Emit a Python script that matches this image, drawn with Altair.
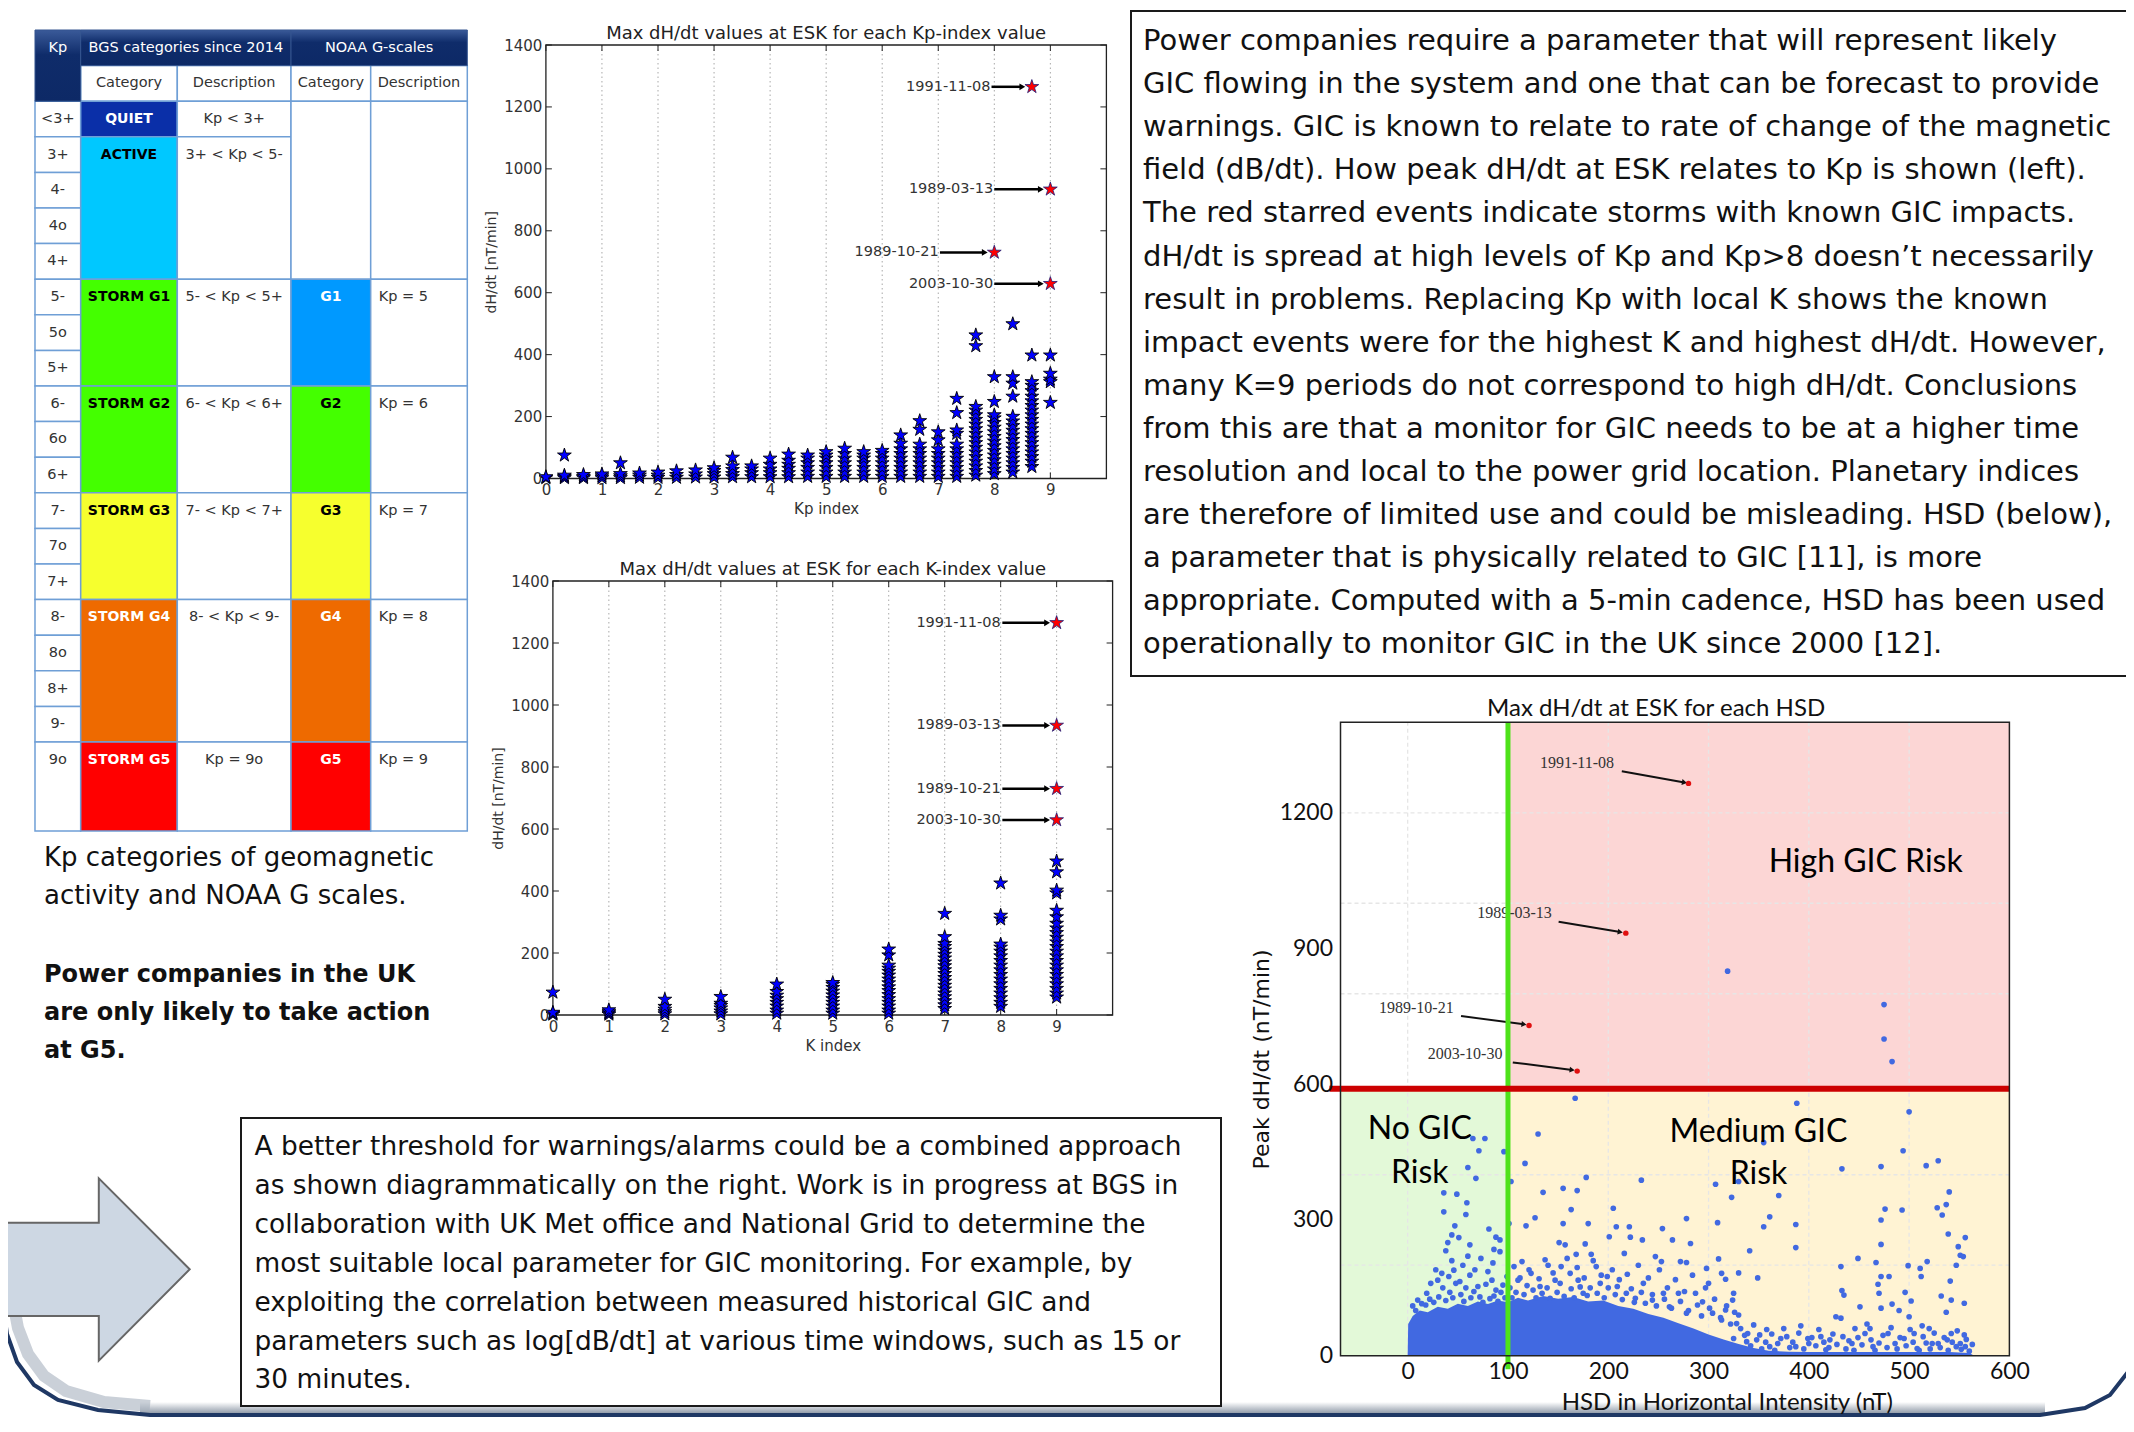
import math
import altair as alt
import pandas as pd

# ---------------------------------------------------------------- data
KP_X = [0, 0.33, 0.67, 1, 1.33, 1.67, 2, 2.33, 2.67, 3, 3.33, 3.67, 4, 4.33,
        4.67, 5, 5.33, 5.67, 6, 6.33, 6.67, 7, 7.33, 7.67, 8, 8.33, 8.67, 9]
KP_VALUES = [
    [2, 5],
    [2, 6, 10, 75],
    [2, 6, 12],
    [2, 8, 14],
    [2, 8, 15, 50],
    [3, 10, 17],
    [3, 10, 20],
    [3, 12, 24],
    [4, 14, 27],
    [4, 15, 25, 34],
    [5, 15, 28, 40, 68],
    [5, 18, 30, 40],
    [5, 18, 30, 45, 65],
    [5, 18, 32, 45, 58, 78],
    [6, 20, 35, 50, 65, 75],
    [6, 20, 35, 50, 65, 75, 86],
    [6, 20, 35, 50, 65, 80, 97],
    [6, 20, 35, 50, 65, 75, 86],
    [6, 20, 35, 50, 65, 80, 90],
    [6, 20, 35, 50, 65, 80, 95, 113, 140],
    [6, 20, 35, 50, 65, 80, 95, 110, 158, 186],
    [6, 20, 35, 50, 65, 80, 95, 124, 150],
    [6, 20, 35, 50, 65, 80, 95, 110, 145, 156, 212, 258],
    [10, 25, 40, 55, 70, 85, 100, 115, 130, 145, 160, 175, 190, 205, 220, 232, 428, 463],
    [15, 30, 45, 60, 75, 90, 105, 120, 135, 150, 165, 180, 195, 205, 248, 328],
    [20, 35, 50, 65, 80, 95, 110, 125, 140, 155, 170, 185, 200, 265, 307, 328, 499],
    [38, 55, 70, 85, 100, 115, 130, 145, 160, 175, 190, 205, 220, 235, 250, 265, 283, 300, 312, 398],
    [245, 312, 320, 339, 398],
]

K_X = [0, 1, 2, 3, 4, 5, 6, 7, 8, 9]
K_VALUES = [
    [2, 5, 8, 73],
    [2, 6, 10, 16],
    [3, 10, 18, 27, 50],
    [3, 12, 22, 30, 37, 59],
    [5, 15, 28, 40, 52, 63, 75, 99],
    [5, 15, 28, 40, 52, 64, 76, 88, 98, 104],
    [5, 15, 28, 40, 52, 65, 78, 90, 103, 115, 128, 140, 150, 160, 193, 212],
    [20, 32, 45, 58, 70, 83, 95, 108, 120, 133, 145, 158, 170, 183, 195, 208, 220, 230, 252, 327],
    [27, 40, 55, 70, 85, 100, 115, 130, 145, 160, 175, 190, 205, 218, 228, 309, 321, 425],
    [57, 70, 85, 100, 115, 130, 145, 160, 175, 190, 205, 220, 235, 250, 265, 280, 295, 316, 337, 393, 402, 461, 496],
]

EVENT_LABELS = ["1991-11-08", "1989-03-13", "1989-10-21", "2003-10-30"]
EVENT_DHDT = [1265, 934, 730, 629]
EVENT_KP = [8.67, 9, 8, 9]
EVENT_K = [9, 9, 9, 9]
EVENT_HSD = [280, 217.5, 121, 169]

HSD_X = [167, 388, 500, 130, 65, 77, 71, 96, 355, 494, 529, 517, 472, 433, 117, 60, 68, 103, 178, 233,
         307, 330, 36, 49, 135, 155, 169, 370, 540, 59, 323, 205, 476, 493, 528, 537, 533, 36, 58, 163,
         278, 361, 309, 472, 47, 81, 101, 118, 127, 155, 180, 208, 221, 254, 355, 387, 539, 556, 44, 51,
         86, 92, 151, 157, 177, 201, 222, 234, 264, 282, 387, 472, 549, 341, 38, 60, 168, 183, 216, 247,
         253, 272, 278, 310, 449, 467, 551, 554, 432, 499, 511, 518, 547, 298, 313, 330, 349, 472, 480, 512,
         541, 300, 317, 325, 433, 435, 469, 470, 472, 483, 496, 502, 532, 542, 555, 537, 500, 490, 451, 317,
         330, 427, 432, 392, 358, 378, 399, 421, 446, 461, 479, 505, 520, 523, 555, 556, 351, 338, 325, 369,
         10, 412, 542, 319, 475, 475, 483,
         19, 23, 30, 34, 41, 46, 52, 62, 70, 80, 84, 88, 95, 106, 110, 114, 123, 132, 140, 147,
         153, 162, 170, 175, 188, 192, 199, 209, 218, 227, 235, 244, 255, 261, 270, 278, 287, 294, 304, 313,
         324, 328, 339, 348, 361, 387, 400, 417, 443, 464, 486, 508, 529, 547, 434, 456, 495, 514, 538, 551,
         102, 104, 108, 112, 116, 119, 121, 125, 128, 131, 134, 137, 139, 142, 145, 149, 152, 156, 159, 163,
         166, 169, 172, 176, 179, 182, 185, 189, 193, 196, 200, 204, 207, 211, 214, 219, 223, 226, 230, 233,
         237, 240, 244, 248, 251, 256, 259, 263, 267, 272, 276, 280, 284, 289, 293, 297, 301, 306, 312, 318,
         322, 326,
         5, 8, 14, 18, 22, 26, 31, 35, 38, 42, 45, 48, 53, 56, 58, 63, 66, 72, 75, 78,
         82, 86, 90, 93, 97, 99, 44, 55, 67, 73, 85, 92, 28, 40, 62, 88,
         332, 336, 342, 345, 353, 357, 363, 366, 372, 375, 381, 384, 390, 395, 403, 407, 410, 415, 420, 424,
         428, 437, 440, 445, 449, 453, 458, 462, 466, 470, 474, 478, 482, 488, 491, 497, 501, 504, 510, 513,
         517, 521, 525, 531, 535, 539, 543, 548, 552, 557, 560, 563]
HSD_Y = [569, 558, 539, 490, 480, 480, 453, 451, 471, 453, 431, 420, 418, 413, 425, 416, 392, 385, 394, 388,
         379, 385, 360, 357, 361, 370, 365, 354, 362, 338, 350, 326, 324, 322, 327, 334, 311, 318, 312, 323,
         303, 307, 294, 300, 287, 280, 292, 287, 305, 292, 292, 285, 285, 281, 285, 290, 269, 261, 267, 261,
         235, 256, 250, 245, 247, 263, 262, 256, 256, 248, 239, 246, 241, 232, 232, 220, 224, 224, 226, 219,
         208, 208, 206, 214, 215, 206, 222, 219, 197, 199, 193, 208, 200, 193, 182, 183, 172, 175, 175, 175,
         165, 160, 169, 138, 144, 134, 158, 138, 105, 114, 140, 121, 132, 123, 116, 96, 86, 100, 108, 101,
         90, 86, 83, 66, 58, 42, 38, 35, 60, 60, 49, 49, 60, 27, 46, 20, 46, 31, 38, 27,
         123, 42, 49, 850, 776, 700, 650,
         138, 160, 167, 182, 175, 189, 164, 178, 153, 186, 167, 145, 156, 197, 167, 208, 182, 153, 200, 167,
         197, 182, 167, 138, 197, 160, 175, 153, 138, 127, 160, 123, 138, 108, 138, 94, 138, 119, 94, 79,
         123, 71, 49, 35, 20, 20, 27, 13, 27, 20, 27, 16, 27, 20, 42, 49, 38, 42, 35, 27,
         150, 128, 140, 172, 135, 155, 190, 145, 128, 170, 138, 212, 150, 127, 183, 140, 160, 131, 215, 148,
         128, 195, 152, 172, 133, 150, 210, 138, 178, 128, 150, 190, 135, 168, 124, 180, 148, 118, 200, 140,
         116, 172, 135, 110, 190, 125, 150, 105, 168, 120, 142, 100, 178, 112, 88, 150, 105, 125, 84, 110,
         70, 96,
         110, 100, 115, 112, 125, 118, 130, 150, 122, 140, 128, 160, 135, 120, 150, 128, 142, 130, 118, 158,
         126, 132, 120, 140, 128, 175, 210, 200, 190, 215, 205, 230, 190, 250, 245, 262,
         60, 45, 22, 68, 15, 30, 48, 12, 38, 60, 18, 30, 50, 15, 40, 22, 58, 30, 18, 48,
         25, 15, 33, 12, 40, 24, 70, 35, 12, 28, 45, 18, 62, 15, 40, 22, 58, 30, 12, 66,
         28, 15, 50, 18, 40, 12, 30, 55, 14, 36, 10, 25]

# upper edge of the solid (saturated) cloud of points
DENSE_X = [0, 0.5, 5, 12, 20, 30, 40, 50, 60, 70, 80, 90, 100, 110, 120, 135, 150, 165, 180, 195,
           210, 225, 240, 255, 270, 285, 300, 315, 330, 345, 360, 380, 400, 450, 500, 540, 560, 565]
DENSE_TOP = [0, 70, 88, 100, 96, 108, 104, 115, 110, 120, 114, 122, 118, 128, 122, 132, 126, 130, 120, 122,
             110, 104, 92, 84, 72, 60, 47, 36, 26, 17, 11, 9, 8, 8, 8, 8, 6, 0]

KP_ROW_LABELS = ["<3+", "3+", "4-", "4o", "4+", "5-", "5o", "5+", "6-", "6o", "6+",
                 "7-", "7o", "7+", "8-", "8o", "8+", "9-", "9o"]
BGS_CATEGORIES = ["QUIET", "ACTIVE", "STORM G1", "STORM G2", "STORM G3", "STORM G4", "STORM G5"]
BGS_DESCRIPTIONS = ["Kp < 3+", "3+ < Kp < 5-", "5- < Kp < 5+", "6- < Kp < 6+", "7- < Kp < 7+",
                    "8- < Kp < 9-", "Kp = 9o"]
NOAA_CATEGORIES = ["", "G1", "G2", "G3", "G4", "G5"]
NOAA_DESCRIPTIONS = ["", "Kp = 5", "Kp = 6", "Kp = 7", "Kp = 8", "Kp = 9"]

TEXT_TOP_RIGHT = [
    "Power companies require a parameter that will represent likely",
    "GIC flowing in the system and one that can be forecast to provide",
    "warnings.  GIC is known to relate to rate of change of the magnetic",
    "field (dB/dt). How peak dH/dt at ESK relates to Kp is shown (left).",
    "The red starred events indicate storms with known GIC impacts.",
    "dH/dt is spread at high levels of Kp and Kp>8 doesn\u2019t necessarily",
    "result in problems. Replacing Kp with local K shows the known",
    "impact events were for the highest K and highest dH/dt. However,",
    "many K=9 periods do not correspond to high dH/dt. Conclusions",
    "from this are that a monitor for GIC needs to be at a higher time",
    "resolution and local to the power grid location. Planetary indices",
    "are therefore of limited use and could be misleading. HSD (below),",
    "a parameter that is physically related to GIC [11], is more",
    "appropriate. Computed with a 5-min cadence, HSD has been used",
    "operationally to monitor GIC in the UK since 2000 [12].",
]
TEXT_BOTTOM = [
    "A better threshold for warnings/alarms could be a combined approach",
    "as shown diagrammatically on the right.  Work is in progress at BGS in",
    "collaboration with UK Met office and National Grid to determine the",
    "most suitable local parameter for GIC monitoring. For example, by",
    "exploiting the correlation between measured historical GIC and",
    "parameters such as log[dB/dt] at various time windows, such as 15 or",
    "30 minutes.",
]
TEXT_CAPTION = ["Kp categories of geomagnetic", "activity and NOAA G scales."]
TEXT_CAPTION_BOLD = ["Power companies in the UK", "are only likely to  take action", "at G5."]

# ---------------------------------------------------------------- layout / style
W, H = 2118, 1410
OFF = 8
MPL_FONT = "DejaVu Sans"
BODY_FONT = "DejaVu Sans"
PLOT3_FONT = "Lato"
STAR = ("M0,-1L0.2245,-0.309L0.9511,-0.309L0.3633,0.118L0.5878,0.809L0,0.382"
        "L-0.5878,0.809L-0.3633,0.118L-0.9511,-0.309L-0.2245,-0.309Z")


def sc(d0, d1, p0, p1):
    return alt.Scale(domain=[d0, d1], range=[p0 - OFF, p1 - OFF], nice=False, zero=False)


XC = sc(0, 2200, 0, 2200)
YC = sc(0, 1500, 0, 1500)


def XCd(f):
    return alt.X(f, type="quantitative", scale=XC, axis=None)


def YCd(f):
    return alt.Y(f, type="quantitative", scale=YC, axis=None)


# ---------------------------------------------------------------- star panels
def star_panel(sx, sy, left_px, bottom_px, ppx, ppy, xs_, vals_, ev_x, ann_end, ann_x0, ann_x1,
               title, xtitle):
    blue = pd.DataFrame([(x, v) for x, vs in zip(xs_, vals_) for v in vs], columns=["x", "y"])
    red = pd.DataFrame({"x": ev_x, "y": EVENT_DHDT})
    ann = pd.DataFrame({"label": EVENT_LABELS, "tx": ann_end, "x0": ann_x0, "x1": ann_x1,
                        "y": EVENT_DHDT})
    grid = pd.DataFrame({"x": list(range(1, 10)), "y0": [0] * 9, "y1": [1400] * 9})
    tl = 6.0
    vt = pd.DataFrame([(t, 0, tl / ppy) for t in range(10)] +
                      [(t, 1400, 1400 - tl / ppy) for t in range(10)], columns=["x", "y0", "y1"])
    ht = pd.DataFrame([(0, tl / ppx, t) for t in range(0, 1401, 200)] +
                      [(10, 10 - tl / ppx, t) for t in range(0, 1401, 200)], columns=["x0", "x1", "y"])
    frame = pd.DataFrame({"x0": [0], "x1": [10], "y0": [0], "y1": [1400]})
    ttl = pd.DataFrame({"x": [5], "y": [1400]})

    xaxis = alt.Axis(orient="bottom", offset=bottom_px - OFF - H, values=list(range(10)), format="d",
                     ticks=False, tickSize=0, domain=False, grid=False, labelFlush=False,
                     labelOverlap=False, labelFont=MPL_FONT, labelFontSize=15, labelColor="#333",
                     labelPadding=4, title=xtitle, titleFont=MPL_FONT, titleFontSize=15,
                     titleFontWeight="normal", titleColor="#333", titlePadding=4, zindex=1)
    yaxis = alt.Axis(orient="left", offset=-(left_px - OFF), values=list(range(0, 1401, 200)),
                     format="d", ticks=False, tickSize=0, domain=False, grid=False,
                     labelFlush=False, labelOverlap=False, labelFont=MPL_FONT, labelFontSize=15,
                     labelColor="#333", labelPadding=4, title="dH/dt [nT/min]", titleFont=MPL_FONT,
                     titleFontSize=14, titleFontWeight="normal", titleColor="#333", titlePadding=5,
                     zindex=1)

    def X(f):
        return alt.X(f, type="quantitative", scale=sx, axis=xaxis)

    def Y(f):
        return alt.Y(f, type="quantitative", scale=sy, axis=yaxis)

    return alt.layer(
        alt.Chart(grid).mark_rule(color="#a8a8a8", strokeDash=[1.5, 3], strokeWidth=1)
        .encode(x=X("x"), y=Y("y0"), y2="y1"),
        alt.Chart(vt).mark_rule(color="#222", strokeWidth=1).encode(x=X("x"), y=Y("y0"), y2="y1"),
        alt.Chart(ht).mark_rule(color="#222", strokeWidth=1).encode(x=X("x0"), x2="x1", y=Y("y")),
        alt.Chart(frame).mark_rect(fillOpacity=0, stroke="#222", strokeWidth=1.3)
        .encode(x=X("x0"), x2="x1", y=Y("y0"), y2="y1"),
        alt.Chart(blue).mark_point(shape=STAR, filled=True, size=210, fill="#0000ff", stroke="#000",
                                   strokeWidth=0.9, opacity=1)
        .encode(x=X("x"), y=Y("y")),
        alt.Chart(red).mark_point(shape=STAR, filled=True, size=210, fill="#ff0000", stroke="#1c1c78",
                                  strokeWidth=0.8, opacity=1)
        .encode(x=X("x"), y=Y("y")),
        alt.Chart(ann).mark_rule(color="#000", strokeWidth=2.5).encode(x=X("x0"), x2="x1", y=Y("y")),
        alt.Chart(ann).mark_point(shape="triangle-right", filled=True, fill="#000", size=45,
                                  opacity=1, strokeWidth=0)
        .encode(x=X("x1"), y=Y("y")),
        alt.Chart(ann).mark_text(align="right", baseline="middle", font=MPL_FONT, fontSize=14.5,
                                 color="#333")
        .encode(x=X("tx"), y=Y("y"), text="label:N"),
        alt.Chart(ttl).mark_text(text=title, align="center", baseline="alphabetic", dy=-6,
                                 font=MPL_FONT, fontSize=18, color="#222")
        .encode(x=X("x"), y=Y("y")),
    )


P1X = sc(0, 10, 545.9, 1106.4)
P1Y = sc(0, 1400, 478.5, 45)
P2X = sc(0, 10, 552.9, 1112.6)
P2Y = sc(0, 1400, 1015, 581)

panel1 = star_panel(P1X, P1Y, 545.9, 478.5, 56.05, 433.5 / 1400, KP_X, KP_VALUES, EVENT_KP,
                    [7.93, 7.98, 7.01, 7.98], [7.95, 8.0, 7.03, 8.0], [8.5, 8.83, 7.83, 8.83],
                    "Max dH/dt values at ESK for each Kp-index value", "Kp index")
panel2 = star_panel(P2X, P2Y, 552.9, 1015, 55.97, 434 / 1400, K_X, K_VALUES, EVENT_K,
                    [8.0, 8.0, 8.0, 8.0], [8.03, 8.03, 8.03, 8.03], [8.83, 8.83, 8.83, 8.83],
                    "Max dH/dt values at ESK for each K-index value", "K index")

# ---------------------------------------------------------------- HSD panel
P3X = sc(-67, 600, 1340.5, 2009.4)
P3Y = sc(0, 1400, 1355.7, 722.3)
PX3, PY3 = 1.003, 0.4526
THR = 590

xaxis3 = alt.Axis(orient="bottom", offset=1355.7 - OFF - H, values=list(range(0, 601, 100)),
                  format="d", ticks=False, tickSize=0, domain=False, grid=False, labelFlush=False,
                  labelOverlap=False, labelFont=PLOT3_FONT, labelFontSize=23, labelColor="#111",
                  labelPadding=5, title="HSD in Horizontal Intensity (nT)", titleFont=PLOT3_FONT,
                  titleFontSize=24, titleFontWeight="normal", titleColor="#111", titlePadding=7,
                  titleX=1718.8, zindex=1)
yaxis3 = alt.Axis(orient="left", offset=-(1340.5 - OFF), values=[0, 300, 600, 900, 1200],
                  format="d", ticks=False, tickSize=0, domain=False, grid=False, labelFlush=False,
                  labelOverlap=False, labelFont=PLOT3_FONT, labelFontSize=23, labelColor="#111",
                  labelPadding=8, title="Peak dH/dt (nT/min)", titleFont=MPL_FONT, titleFontSize=22,
                  titleFontWeight="normal", titleColor="#111", titlePadding=6, titleY=1051, zindex=1)


def X3(f):
    return alt.X(f, type="quantitative", scale=P3X, axis=xaxis3)


def Y3(f):
    return alt.Y(f, type="quantitative", scale=P3Y, axis=yaxis3)


regions = pd.DataFrame({"x0": [-67, 100, -67, 100], "x1": [100, 600, 100, 600],
                        "y0": [THR, THR, 0, 0], "y1": [1400, 1400, THR, THR],
                        "fill": ["#ffffff", "#fcd6d5", "#e3f9d8", "#fff3d3"]})
vgrid = pd.DataFrame({"x": [0, 200, 300, 400, 500], "y0": [0] * 5, "y1": [1400] * 5})
hgrid = pd.DataFrame({"y": [200, 400, 800, 1000, 1200], "x0": [-67] * 5, "x1": [600] * 5})
dense = pd.DataFrame({"x": DENSE_X, "y": DENSE_TOP, "y0": [0] * len(DENSE_X)})
dots = pd.DataFrame({"x": HSD_X, "y": HSD_Y})
ev3 = pd.DataFrame({"x": EVENT_HSD, "y": EVENT_DHDT})
lab3 = pd.DataFrame({"label": EVENT_LABELS, "x": [168.9, 106.5, 8.6, 57.2],
                     "y": [1310, 977.5, 769, 666.6]})
arr3 = pd.DataFrame({"x0": [213.5, 150.5, 53.2, 104.8], "y0": [1291.7, 959, 750.6, 648.3],
                     "x1": [276, 212, 116, 164], "y1": [1267, 936.5, 732.5, 631.5]})
arr3["ang"] = [math.degrees(math.atan2((a - b) * PY3, (d - c) * PX3))
               for a, b, c, d in zip(arr3.y0, arr3.y1, arr3.x0, arr3.x1)]
green = pd.DataFrame({"x": [100], "y0": [-30], "y1": [1400]})
redl = pd.DataFrame({"y": [THR], "x0": [-78], "x1": [600]})
frame3 = pd.DataFrame({"x0": [-67], "x1": [600], "y0": [0], "y1": [1400]})
risk = pd.DataFrame({"t": ["High GIC Risk", "No GIC", "Risk", "Medium GIC", "Risk"],
                     "x": [456.7, 12.1, 12.1, 349.8, 349.8],
                     "y": [1091.5, 502, 404, 495, 401]})
ttl3 = pd.DataFrame({"x": [247.7], "y": [1400]})

panel3 = alt.layer(
    alt.Chart(regions).mark_rect(strokeWidth=0)
    .encode(x=X3("x0"), x2="x1", y=Y3("y0"), y2="y1", fill=alt.Fill("fill:N", scale=None)),
    alt.Chart(vgrid).mark_rule(color="#e6e6e6", strokeDash=[4, 3], strokeWidth=1.3)
    .encode(x=X3("x"), y=Y3("y0"), y2="y1"),
    alt.Chart(hgrid).mark_rule(color="#e6e6e6", strokeDash=[4, 3], strokeWidth=1.3)
    .encode(x=X3("x0"), x2="x1", y=Y3("y")),
    alt.Chart(dense).mark_area(color="#4169e1", opacity=1)
    .encode(x=X3("x"), y=Y3("y"), y2="y0"),
    alt.Chart(dots).mark_circle(size=32, color="#4169e1", opacity=1)
    .encode(x=X3("x"), y=Y3("y")),
    alt.Chart(lab3).mark_text(font="Liberation Serif", fontSize=16, color="#333", baseline="middle")
    .encode(x=X3("x"), y=Y3("y"), text="label:N"),
    alt.Chart(arr3).mark_rule(color="#111", strokeWidth=2)
    .encode(x=X3("x0"), x2="x1", y=Y3("y0"), y2="y1"),
    alt.Chart(arr3).mark_point(shape="triangle-right", filled=True, fill="#111", size=35,
                               opacity=1, strokeWidth=0)
    .encode(x=X3("x1"), y=Y3("y1"), angle=alt.Angle("ang:Q", scale=None)),
    alt.Chart(ev3).mark_circle(size=30, color="#e01010", opacity=1).encode(x=X3("x"), y=Y3("y")),
    alt.Chart(green).mark_rule(color="#4ee21a", strokeWidth=5).encode(x=X3("x"), y=Y3("y0"), y2="y1"),
    alt.Chart(redl).mark_rule(color="#cc0000", strokeWidth=6).encode(x=X3("x0"), x2="x1", y=Y3("y")),
    alt.Chart(frame3).mark_rect(fillOpacity=0, stroke="#222", strokeWidth=1.5)
    .encode(x=X3("x0"), x2="x1", y=Y3("y0"), y2="y1"),
    alt.Chart(risk).mark_text(font=PLOT3_FONT, fontSize=32, color="#000", baseline="middle")
    .encode(x=X3("x"), y=Y3("y"), text="t:N"),
    alt.Chart(ttl3).mark_text(text="Max dH/dt at ESK for each HSD", font=PLOT3_FONT, fontSize=24,
                              color="#111", baseline="alphabetic", dy=-6)
    .encode(x=X3("x"), y=Y3("y")),
)

# ---------------------------------------------------------------- table
E = [35, 80.7, 177.3, 291, 370.7, 467.3]
ROWY = sc(0, 22.5, 30, 831)
BGS_ROWS = [(2, 3), (3, 7), (7, 10), (10, 13), (13, 16), (16, 20), (20, 22.5)]
BGS_FILL = ["#0a2fa8", "#00c8ff", "#44ff00", "#44ff00", "#f6ff2e", "#ee6a00", "#ff0000"]
BGS_TXT = ["#ffffff", "#000000", "#000000", "#000000", "#000000", "#ffffff", "#ffffff"]
NOAA_ROWS = [(2, 7), (7, 10), (10, 13), (13, 16), (16, 20), (20, 22.5)]
NOAA_FILL = ["#ffffff", "#0099ff", "#44ff00", "#f6ff2e", "#ee6a00", "#ff0000"]
NOAA_TXT = ["#000000", "#ffffff", "#000000", "#000000", "#ffffff", "#ffffff"]

cells, t_norm, t_bold, t_left = [], [], [], []
for c, name in zip(range(1, 5), ["Category", "Description", "Category", "Description"]):
    cells.append((E[c], E[c + 1], 1, 2, "#ffffff"))
    t_norm.append(((E[c] + E[c + 1]) / 2, 1.5, name, "#333333"))
for i, lab in enumerate(KP_ROW_LABELS):
    r0 = 2 + i
    r1 = r0 + 1 if i < len(KP_ROW_LABELS) - 1 else 22.5
    cells.append((E[0], E[1], r0, r1, "#ffffff"))
    t_norm.append(((E[0] + E[1]) / 2, r0 + 0.5, lab, "#333333"))
for (r0, r1), cat, desc, f, tc in zip(BGS_ROWS, BGS_CATEGORIES, BGS_DESCRIPTIONS, BGS_FILL, BGS_TXT):
    cells.append((E[1], E[2], r0, r1, f))
    cells.append((E[2], E[3], r0, r1, "#ffffff"))
    t_bold.append(((E[1] + E[2]) / 2, r0 + 0.5, cat, tc))
    t_norm.append(((E[2] + E[3]) / 2, r0 + 0.5, desc, "#333333"))
for (r0, r1), cat, desc, f, tc in zip(NOAA_ROWS, NOAA_CATEGORIES, NOAA_DESCRIPTIONS, NOAA_FILL, NOAA_TXT):
    cells.append((E[3], E[4], r0, r1, f))
    cells.append((E[4], E[5], r0, r1, "#ffffff"))
    if cat:
        t_bold.append(((E[3] + E[4]) / 2, r0 + 0.5, cat, tc))
        t_left.append((E[4] + 8, r0 + 0.5, desc, "#333333"))

cells_df = pd.DataFrame(cells, columns=["x0", "x1", "r0", "r1", "fill"])
hdr_df = pd.DataFrame({"x0": [E[0], E[1], E[3]], "x1": [E[1], E[3], E[5]], "r0": [0, 0, 0],
                       "r1": [2, 1, 1]})
hdr_txt = pd.DataFrame({"x": [(E[0] + E[1]) / 2, (E[1] + E[3]) / 2, (E[3] + E[5]) / 2],
                        "r": [0.5, 0.5, 0.5],
                        "t": ["Kp", "BGS categories since 2014", "NOAA G-scales"]})
cols = ["x", "r", "t", "c"]
tn, tb, tlf = (pd.DataFrame(v, columns=cols) for v in (t_norm, t_bold, t_left))

HDR_GRAD = {"gradient": "linear", "x1": 0, "y1": 0, "x2": 0, "y2": 1,
            "stops": [{"offset": 0, "color": "#3a5a99"}, {"offset": 0.35, "color": "#0f2c6a"},
                      {"offset": 1, "color": "#0d2966"}]}


def RY(f):
    return alt.Y(f, type="quantitative", scale=ROWY, axis=None)


table = alt.layer(
    alt.Chart(cells_df).mark_rect(stroke="#6f9fd6", strokeWidth=1.5)
    .encode(x=XCd("x0"), x2="x1", y=RY("r0"), y2="r1", fill=alt.Fill("fill:N", scale=None)),
    alt.Chart(hdr_df).mark_rect(fill=HDR_GRAD, stroke="#34548f", strokeWidth=1)
    .encode(x=XCd("x0"), x2="x1", y=RY("r0"), y2="r1"),
    alt.Chart(hdr_txt).mark_text(font=MPL_FONT, fontSize=14.5, color="#ffffff", baseline="middle")
    .encode(x=XCd("x"), y=RY("r"), text="t:N"),
    alt.Chart(tn).mark_text(font=MPL_FONT, fontSize=14.5, baseline="middle")
    .encode(x=XCd("x"), y=RY("r"), text="t:N", color=alt.Color("c:N", scale=None)),
    alt.Chart(tb).mark_text(font=MPL_FONT, fontSize=14, fontWeight="bold", baseline="middle")
    .encode(x=XCd("x"), y=RY("r"), text="t:N", color=alt.Color("c:N", scale=None)),
    alt.Chart(tlf).mark_text(font=MPL_FONT, fontSize=14.5, align="left", baseline="middle")
    .encode(x=XCd("x"), y=RY("r"), text="t:N", color=alt.Color("c:N", scale=None)),
)

# ---------------------------------------------------------------- decorations & text
def text_block(x, y, lines, size, lh, weight="normal"):
    return (alt.Chart(pd.DataFrame({"x": [x], "y": [y]}))
            .mark_text(text=lines, align="left", baseline="alphabetic", font=BODY_FONT,
                       fontSize=size, lineHeight=lh, fontWeight=weight, color="#111")
            .encode(x=XCd("x"), y=YCd("y")))


boxes = pd.DataFrame({"x0": [1131, 241], "x1": [2200, 1221], "y0": [11, 1118], "y1": [676, 1406]})
arrow = pd.DataFrame({"x": [-12, 98.8, 98.81, 189.7], "y": [1222.7, 1222.7, 1178.3, 1269.3],
                      "y2": [1316, 1316, 1360.7, 1269.3]})
band = pd.DataFrame({"x0": [140], "x1": [2045], "y0": [1402], "y1": [1414]})
BAND_GRAD = {"gradient": "linear", "x1": 0, "y1": 0, "x2": 0, "y2": 1,
             "stops": [{"offset": 0, "color": "#ffffff"}, {"offset": 1, "color": "#8a95a4"}]}
border = pd.DataFrame({
    "x": [2, 7, 17, 34, 58, 98, 150, 2040, 2085, 2110, 2128],
    "y": [1298, 1334, 1362, 1385, 1400, 1410, 1415, 1415, 1408, 1395, 1372],
    "i": list(range(11))})
shade = pd.DataFrame({
    "x": [12, 18, 28, 44, 66, 104, 150],
    "y": [1296, 1328, 1354, 1376, 1391, 1402, 1406],
    "i": list(range(7))})

deco = alt.layer(
    alt.Chart(band).mark_rect(fill=BAND_GRAD).encode(x=XCd("x0"), x2="x1", y=YCd("y0"), y2="y1"),
    alt.Chart(shade).mark_line(color="#a7b1be", strokeWidth=12, opacity=0.6)
    .encode(x=XCd("x"), y=YCd("y"), order="i:Q"),
    alt.Chart(border).mark_line(color="#1f3864", strokeWidth=4)
    .encode(x=XCd("x"), y=YCd("y"), order="i:Q"),
    alt.Chart(arrow).mark_area(fill="#cdd7e3", stroke="#666666", strokeWidth=2, opacity=1)
    .encode(x=XCd("x"), y=YCd("y"), y2="y2"),
    alt.Chart(boxes).mark_rect(fill="#ffffff", stroke="#1a1a1a", strokeWidth=2)
    .encode(x=XCd("x0"), x2="x1", y=YCd("y0"), y2="y1"),
    text_block(1143, 50, TEXT_TOP_RIGHT, 29, 43.1),
    text_block(254.5, 1155, TEXT_BOTTOM, 26.4, 38.9),
    text_block(44, 865.7, TEXT_CAPTION, 26, 38.3),
    text_block(44, 981.7, TEXT_CAPTION_BOLD, 24, 38.3, "bold"),
)

chart = (
    alt.layer(deco, table, panel1, panel2, panel3)
    .resolve_scale(x="independent", y="independent")
    .properties(width=W, height=H, padding=0, background="white",
                autosize=alt.AutoSizeParams(type="none"))
    .configure_view(strokeWidth=0)
)

chart.save("out.html", embed_options={"renderer": "svg", "actions": False})
